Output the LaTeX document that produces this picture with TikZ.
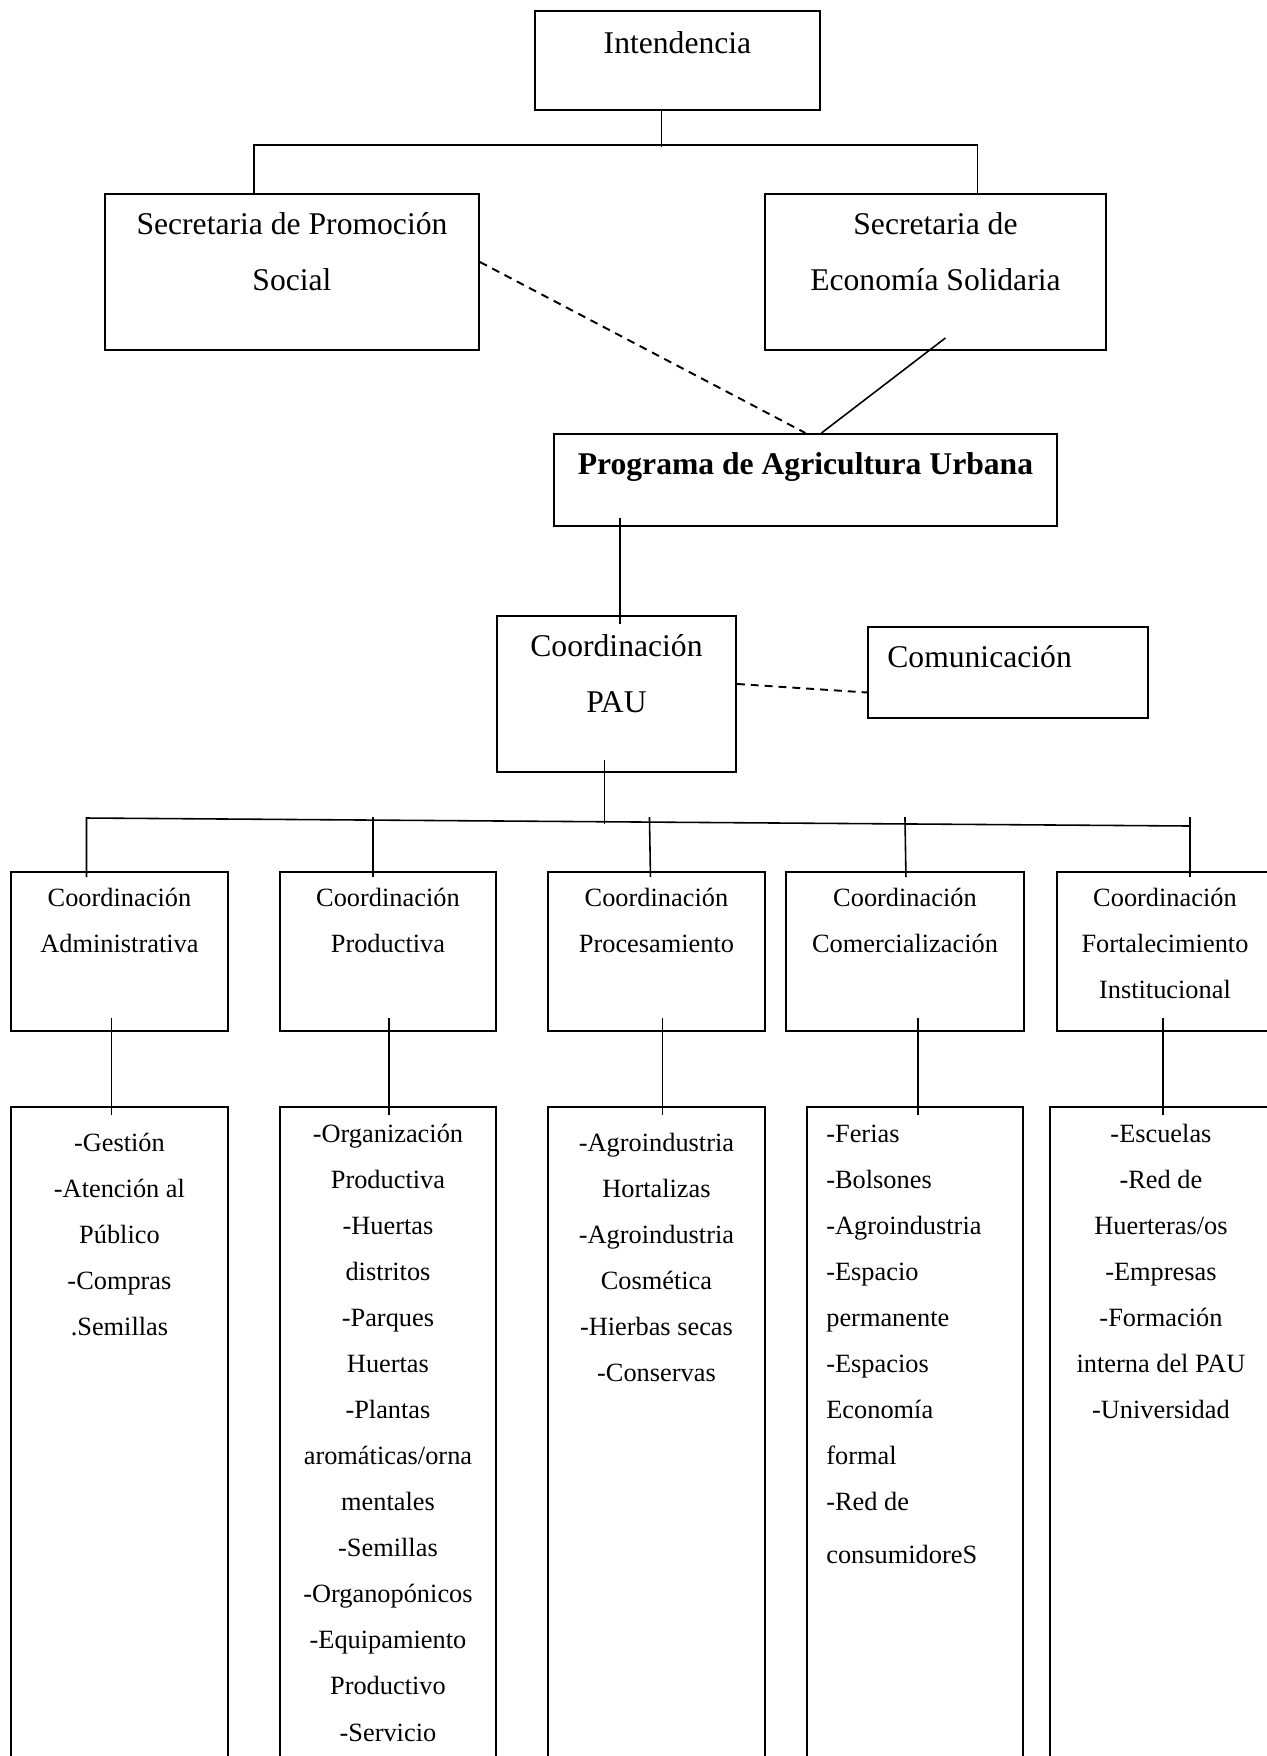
\documentclass[tikz,border=0pt]{standalone}
\usepackage{fontspec}
\setmainfont{Liberation Serif}
\usetikzlibrary{calc,positioning}
\newcommand{\unitpx}{0.02cm}
\tikzset{dims/.style 2 args={minimum width=#1*\unitpx,minimum height=#2*\unitpx},
	every edge/.style={draw,line width=0.9pt},
	dashed link/.style={draw,line width=1.1pt,dash pattern=on 4.5pt off 3.4pt}}
\tikzstyle{unit}=[rectangle,draw=black,line width=1.1pt,inner sep=0pt,anchor=north west]
\tikzstyle{bigtext}=[inner sep=0pt,align=center,font=\fontsize{18}{32}\selectfont]
\tikzstyle{smalltext}=[inner sep=0pt,align=center,font=\fontsize{15}{26.2}\selectfont]

\begin{document}
\begin{tikzpicture}[x=0.02cm,y=-0.02cm]
		\useasboundingbox (0,0) rectangle (1267,1756);
		% upper levels
		\node at (534,10) [unit,dims={285}{99}] (int) {};
		\node at (104,193) [unit,dims={374}{156}] (sps) {};
		\node at (764,193) [unit,dims={341}{156}] (ses) {};
		\node at (553,433) [unit,dims={503}{92}] (pau) {};
		\node at (496,615) [unit,dims={239}{156}] (coord) {};
		\node at (867,626) [unit,dims={280}{91}] (com) {};
		\node at ($(int.north)+(0,4)$) [bigtext,anchor=north] (intT) {\strut Intendencia};
		\node at ($(sps.north)+(0,2)$) [bigtext,anchor=north] (spsT) {\strut Secretaria de Promoción\\Social};
		\node at ($(ses.north)+(0,2)$) [bigtext,anchor=north] (sesT) {\strut Secretaria de\\Economía Solidaria};
		\node at ($(pau.north)+(0,2)$) [bigtext,anchor=north] (pauT) {\strut\bfseries Programa de Agricultura Urbana};
		\node at ($(coord.north)+(0,2)$) [bigtext,anchor=north] (coordT) {\strut Coordinación\\PAU};
		\node at ($(com.north west)+(20,2)$) [bigtext,anchor=north west] (comT) {\strut Comunicación};
		% coordinations
		\node at (10,871) [unit,dims={217}{159}] (c1) {};
		\node at (279,871) [unit,dims={216}{159}] (c2) {};
		\node at (547,871) [unit,dims={217}{159}] (c3) {};
		\node at (785,871) [unit,dims={238}{159}] (c4) {};
		\node at (1056,871) [unit,dims={216}{159}] (c5) {};
		\node at ($(c1.north)+(0,3)$) [smalltext,anchor=north] (c1T) {\strut Coordinación\\Administrativa};
		\node at ($(c2.north)+(0,3)$) [smalltext,anchor=north] (c2T) {\strut Coordinación\\Productiva};
		\node at ($(c3.north)+(0,3)$) [smalltext,anchor=north] (c3T) {\strut Coordinación\\Procesamiento};
		\node at ($(c4.north)+(0,3)$) [smalltext,anchor=north] (c4T) {\strut Coordinación\\Comercialización};
		\node at ($(c5.north)+(0,3)$) [smalltext,anchor=north] (c5T) {\strut Coordinación\\Fortalecimiento\\Institucional};
		% task lists
		\node at (10,1106) [unit,dims={217}{674}] (l1) {};
		\node at (279,1106) [unit,dims={216}{674}] (l2) {};
		\node at (547,1106) [unit,dims={217}{674}] (l3) {};
		\node at (806,1106) [unit,dims={216}{674}] (l4) {};
		\node at (1049,1106) [unit,dims={222}{674}] (l5) {};
		\node at ($(l1.north)+(0,13)$) [smalltext,anchor=north] (l1T) {\strut -Gestión\\-Atención al\\Público\\-Compras\\.Semillas};
		\node at ($(l2.north)+(0,4)$) [smalltext,anchor=north] (l2T) {\strut -Organización\\Productiva\\-Huertas\\distritos\\-Parques\\Huertas\\-Plantas\\aromáticas/orna\\mentales\\-Semillas\\-Organopónicos\\-Equipamiento\\Productivo\\-Servicio};
		\node at ($(l3.north)+(0,13)$) [smalltext,anchor=north] (l3T) {\strut -Agroindustria\\Hortalizas\\-Agroindustria\\Cosmética\\-Hierbas secas\\-Conservas};
		\node at ($(l4.north west)+(20,4)$) [smalltext,align=left,anchor=north west] (l4T) {\strut -Ferias\\-Bolsones\\-Agroindustria\\-Espacio\\permanente\\-Espacios\\Economía\\formal\\-Red de\\[4pt]consumidoreS};
		\node at ($(l5.north)+(0,4)$) [smalltext,anchor=north] (l5T) {\strut -Escuelas\\-Red de\\Huerteras/os\\-Empresas\\-Formación\\interna del PAU\\-Universidad};
		% links
		\draw ($(int.south)+(-16,0)$) edge ($(int.south)+(-16,36)$);
		\draw[line width=0.9pt] ($(sps.north)+(-38,0)$) |- ($(ses.north)+(42,-48)$) -- ($(ses.north)+(42,0)$);
		\draw[dashed link] ($(sps.north east)+(0,69)$) -- (pau.north);
		\draw ($(ses.south)+(10,-13)$) edge ($(pau.north)+(16,0)$);
		\draw ($(pau.south west)+(67,-9)$) edge ($(coord.north west)+(124,9)$);
		\draw[dashed link] ($(coord.east)+(0,-10)$) -- ($(com.west)+(0,20)$);
		\draw ($(coord.south)+(-12,-13)$) edge ($(coord.south)+(-12,51)$);
		\draw[line width=0.9pt] ($(c1.north)+(-33,6)$) -- ($(c1.north)+(-33,-53)$) -- ($(c5.north)+(25,-45)$);
		\draw ($(c2.north)+(-15,-54)$) edge ($(c2.north)+(-15,6)$);
		\draw ($(c3.north)+(-7,-54)$) edge ($(c3.north)+(-6,6)$);
		\draw ($(c4.north)+(0,-54)$) edge ($(c4.north)+(1,6)$);
		\draw ($(c5.north)+(25,-54)$) edge ($(c5.north)+(25,6)$);
		\draw ($(c1.south)+(-8,-14)$) edge ($(l1.north)+(-8,9)$);
		\draw ($(c2.south)+(1,-14)$) edge ($(l2.north)+(1,9)$);
		\draw ($(c3.south)+(6,-14)$) edge ($(l3.north)+(6,9)$);
		\draw ($(c4.south)+(13,-14)$) edge ($(l4.north)+(3,9)$);
		\draw ($(c5.south)+(-2,-14)$) edge ($(l5.north)+(2,9)$);
\end{tikzpicture}
\end{document}
